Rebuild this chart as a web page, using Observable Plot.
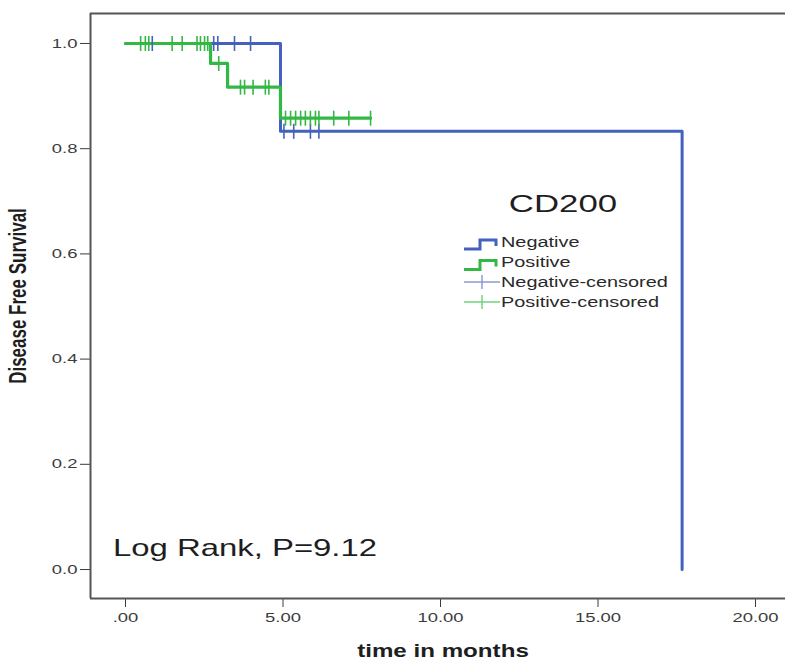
<!DOCTYPE html>
<html>
<head>
<meta charset="utf-8">
<script src="https://cdn.jsdelivr.net/npm/d3@7"></script>
<script src="https://cdn.jsdelivr.net/npm/@observablehq/plot@0.6"></script>
<style>
  html, body { margin: 0; padding: 0; background: #fff; }
  #wrap { position: relative; width: 785px; height: 661px; overflow: hidden; }
  #overlay { position: absolute; left: 0; top: 0; pointer-events: none; }
</style>
</head>
<body>
<div id="wrap"></div>
<script>
// ---- data ----
const groups = ["Negative", "Positive"];
const negTimes = [0, 4.92, 17.67];
const negSurv = [1.0, 0.833, 0.0];
const posTimes = [0, 2.70, 3.24, 4.92, 7.78];
const posSurv = [1.0, 0.962, 0.917, 0.858, 0.858];
const negCensorTimes = [0.85, 2.80, 2.93, 3.46, 3.97, 5.03, 5.34, 5.87, 6.14];
const negCensorSurv  = [1.0, 1.0, 1.0, 1.0, 1.0, 0.833, 0.833, 0.833, 0.833];
const posCensorTimes = [0.48, 0.63, 0.74, 1.48, 1.80, 2.27, 2.38, 2.51, 2.61, 2.96,
                        3.65, 3.78, 4.05, 4.44, 4.55,
                        5.08, 5.24, 5.40, 5.56, 5.71, 5.87, 6.03, 6.14, 6.61, 7.09, 7.78];
const posCensorSurv  = [1, 1, 1, 1, 1, 1, 1, 1, 1, 0.962,
                        0.917, 0.917, 0.917, 0.917, 0.917,
                        0.858, 0.858, 0.858, 0.858, 0.858, 0.858, 0.858, 0.858, 0.858, 0.858, 0.858];
const xTicks = [0, 5, 10, 15, 20];
const xTickLabels = [".00", "5.00", "10.00", "15.00", "20.00"];
const yTicks = [0, 0.2, 0.4, 0.6, 0.8, 1.0];
const yTickLabels = ["0.0", "0.2", "0.4", "0.6", "0.8", "1.0"];
const legendTitle = "CD200";
const legendLabels = ["Negative", "Positive", "Negative-censored", "Positive-censored"];
const annotation = "Log Rank, P=9.12";
const xTitle = "time in months";
const yTitle = "Disease Free Survival";

// ---- styling ----
const BLUE = "#4461bd";
const GREEN = "#34b845";
const BLUE_LIGHT = "#8d9bd6";
const GREEN_LIGHT = "#74d27e";
const SX = 1.42; // horizontal glyph stretch seen in the reference
const xDomain = [-1.111, 20.952];
const yDomain = [-0.0551, 1.057];

const negData = negTimes.map((t, i) => ({t, s: negSurv[i], g: groups[0]}));
const posData = posTimes.map((t, i) => ({t, s: posSurv[i], g: groups[1]}));
const negCens = negCensorTimes.map((t, i) => ({t, s: negCensorSurv[i]}));
const posCens = posCensorTimes.map((t, i) => ({t, s: posCensorSurv[i]}));

const vTick = {
  draw(context, size) {
    const h = Math.sqrt(size / Math.PI);
    context.moveTo(0, -h);
    context.lineTo(0, h);
  }
};

const chart = Plot.plot({
  width: 785,
  height: 661,
  marginLeft: 90,
  marginRight: 0,
  marginTop: 13,
  marginBottom: 63,
  style: {fontFamily: "'Liberation Sans', Arial, sans-serif", fontSize: "13px", color: "#3c3c3c", background: "#fff", overflow: "visible"},
  x: {domain: xDomain, ticks: xTicks, tickFormat: d => xTickLabels[xTicks.indexOf(d)], tickSize: 9, tickPadding: 5, label: null},
  y: {domain: yDomain, ticks: yTicks, tickFormat: d => yTickLabels[yTicks.findIndex(v => Math.abs(v - d) < 1e-9)], tickSize: 10, tickPadding: 3, label: null},
  marks: [
    Plot.ruleX([xDomain[0]], {stroke: "#555", strokeWidth: 2}),
    Plot.ruleY([yDomain[0]], {stroke: "#555", strokeWidth: 2}),
    Plot.ruleY([yDomain[1]], {stroke: "#555", strokeWidth: 2}),
    Plot.line(negData, {x: "t", y: "s", curve: "step-after", stroke: BLUE, strokeWidth: 3}),
    Plot.line(posData, {x: "t", y: "s", curve: "step-after", stroke: GREEN, strokeWidth: 3.2}),
    Plot.dot(negCens, {x: "t", y: "s", symbol: vTick, r: 7.5, fill: "none", stroke: BLUE, strokeWidth: 1.6}),
    Plot.dot(posCens, {x: "t", y: "s", symbol: vTick, r: 7.5, fill: "none", stroke: GREEN, strokeWidth: 1.6})
  ]
});

// stretch tick labels horizontally like the reference
chart.querySelectorAll('g[aria-label="x-axis tick label"] text, g[aria-label="y-axis tick label"] text').forEach(t => {
  const tr = t.getAttribute("transform") || "";
  t.setAttribute("transform", tr + ` scale(${SX},1)`);
});

const wrap = document.getElementById("wrap");
wrap.appendChild(chart);

// ---- overlay: legend, annotation, axis titles ----
const ov = d3.select(wrap).append("svg")
  .attr("id", "overlay")
  .attr("width", 785).attr("height", 661)
  .style("font-family", "'Liberation Sans', Arial, sans-serif");

ov.append("text")
  .attr("transform", `translate(563,212) scale(1.45,1)`)
  .attr("text-anchor", "middle")
  .attr("font-size", 24)
  .attr("fill", "#1e1e1e")
  .text(legendTitle);

const rowBase = [246.5, 267, 287, 307];
const rowColors = [BLUE, GREEN, BLUE_LIGHT, GREEN_LIGHT];
legendLabels.forEach((lab, i) => {
  const b = rowBase[i];
  if (i < 2) {
    ov.append("path")
      .attr("d", `M464,${b + 2.5}H480V${b - 6.5}H496V${b - 0.5}`)
      .attr("fill", "none").attr("stroke", rowColors[i]).attr("stroke-width", 3);
  } else {
    const c = b - 5;
    ov.append("path")
      .attr("d", `M464,${c}H500M482,${c - 7}V${c + 7}`)
      .attr("fill", "none").attr("stroke", rowColors[i]).attr("stroke-width", 1.5);
  }
  ov.append("text")
    .attr("transform", `translate(501,${b}) scale(${SX},1)`)
    .attr("font-size", 14)
    .attr("fill", "#2a2a2a")
    .text(lab);
});

ov.append("text")
  .attr("transform", `translate(113,556) scale(1.43,1)`)
  .attr("font-size", 23)
  .attr("fill", "#1e1e1e")
  .text(annotation);

ov.append("text")
  .attr("transform", `translate(443,657) scale(1.38,1)`)
  .attr("text-anchor", "middle")
  .attr("font-size", 17.5)
  .attr("font-weight", "bold")
  .attr("fill", "#1e1e1e")
  .text(xTitle);

ov.append("text")
  .attr("transform", `translate(18,296) scale(1.4,1) rotate(-90)`)
  .attr("text-anchor", "middle")
  .attr("dy", "0.35em")
  .attr("font-size", 17)
  .attr("font-weight", "bold")
  .attr("fill", "#1e1e1e")
  .text(yTitle);
</script>
</body>
</html>
